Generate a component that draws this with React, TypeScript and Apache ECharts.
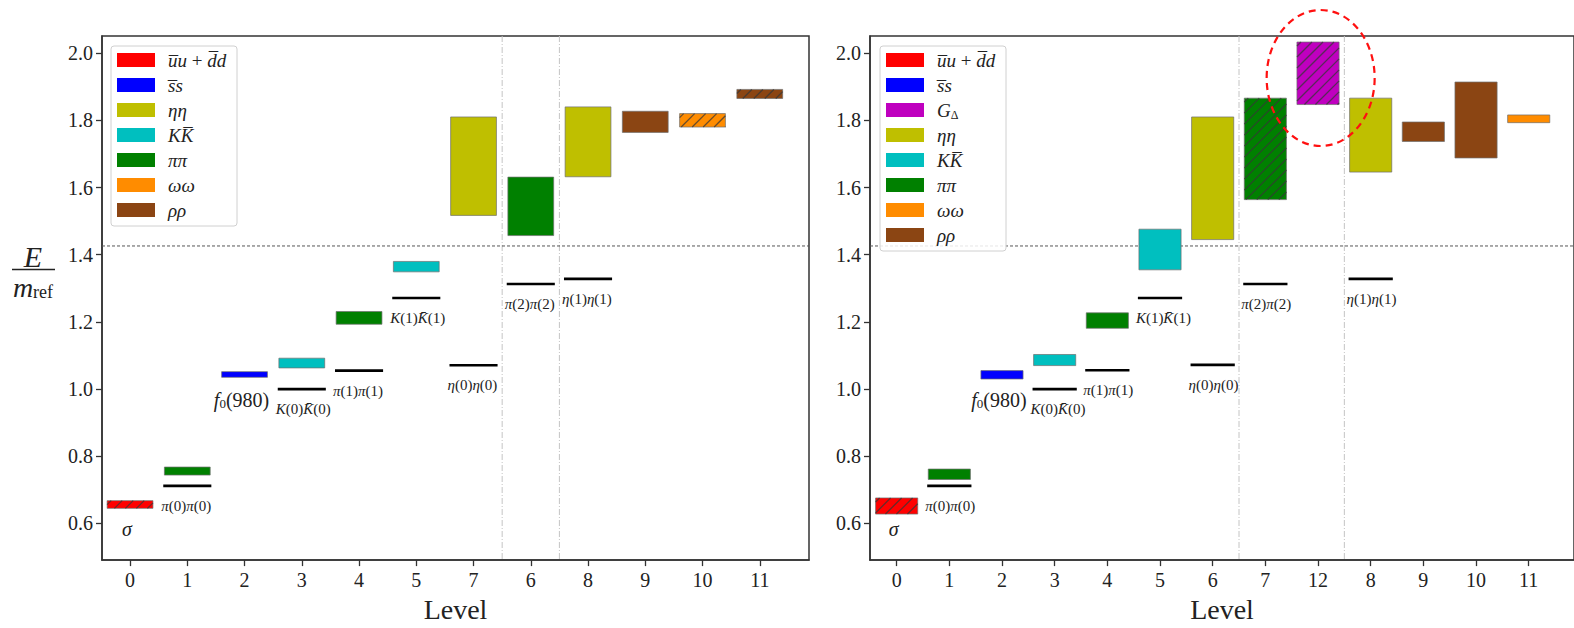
import React, { useEffect, useRef } from "react";
import * as echarts from "echarts";

// ---------- data ----------
const leftLevels = ["0", "1", "2", "3", "4", "5", "7", "6", "8", "9", "10", "11"];
const leftKinds = ["uudd", "pipi", "ss", "KK", "pipi", "KK", "etaeta", "pipi", "etaeta", "rhorho", "omegaomega", "rhorho"];
const leftLow = [0.645, 0.744, 1.035, 1.063, 1.193, 1.349, 1.517, 1.457, 1.632, 1.764, 1.78, 1.865];
const leftHigh = [0.668, 0.768, 1.052, 1.092, 1.231, 1.38, 1.81, 1.631, 1.84, 1.827, 1.82, 1.892];
const leftHatched = [true, false, false, false, false, false, false, false, false, false, true, true];
const leftPairPos = [1, 3, 4, 5, 6, 7, 8];
const leftPairE = [0.712, 1.0, 1.055, 1.271, 1.071, 1.313, 1.328];
const leftPairLabels = ["π(0)π(0)", "K(0)K̄(0)", "π(1)π(1)", "K(1)K̄(1)", "η(0)η(0)", "π(2)π(2)", "η(1)η(1)"];
const leftDividers = [6.5, 7.5];

const rightLevels = ["0", "1", "2", "3", "4", "5", "6", "7", "12", "8", "9", "10", "11"];
const rightKinds = ["uudd", "pipi", "ss", "KK", "pipi", "KK", "etaeta", "pipi", "G", "etaeta", "rhorho", "rhorho", "omegaomega"];
const rightLow = [0.628, 0.731, 1.03, 1.07, 1.181, 1.355, 1.445, 1.564, 1.847, 1.646, 1.737, 1.688, 1.793];
const rightHigh = [0.676, 0.762, 1.055, 1.103, 1.227, 1.476, 1.81, 1.866, 2.033, 1.866, 1.795, 1.914, 1.816];
const rightHatched = [true, false, false, false, false, false, false, true, true, false, false, false, false];
const rightPairPos = [1, 3, 4, 5, 6, 7, 9];
const rightPairE = [0.712, 1.0, 1.056, 1.271, 1.072, 1.313, 1.328];
const rightPairLabels = ["π(0)π(0)", "K(0)K̄(0)", "π(1)π(1)", "K(1)K̄(1)", "η(0)η(0)", "π(2)π(2)", "η(1)η(1)"];
const rightDividers = [6.5, 8.5];

const thresholdE = 1.426;
const yTicks = [0.6, 0.8, 1.0, 1.2, 1.4, 1.6, 1.8, 2.0];
const stateNames = ["σ", "f0(980)"];
const statePos = [0, 2];
const stateE = [0.585, 0.968];
const highlightCenter = [8.05, 1.926];

const legendLeft = ["uudd", "ss", "etaeta", "KK", "pipi", "omegaomega", "rhorho"];
const legendRight = ["uudd", "ss", "G", "etaeta", "KK", "pipi", "omegaomega", "rhorho"];

const kindColors: Record<string, string> = {
  uudd: "#ff0000",
  ss: "#0000ff",
  G: "#bf00bf",
  etaeta: "#bfbf00",
  KK: "#00bfbf",
  pipi: "#008000",
  omegaomega: "#ff8c00",
  rhorho: "#8b4513",
};
const kindLabels: Record<string, string> = {
  uudd: "{i|u\u0305u} + {i|d\u0305d}",
  ss: "{i|s\u0305s}",
  G: "{i|G}{sub|Δ}",
  etaeta: "{i|ηη}",
  KK: "{i|KK\u0305}",
  pipi: "{i|ππ}",
  omegaomega: "{i|ωω}",
  rhorho: "{i|ρρ}",
};

const SERIF = '"Liberation Serif", "DejaVu Serif", serif';
const INK = "#222";

function toRich(s: string) {
  return s.replace(/([πηK]\u0304?)/g, "{i|$1}");
}

function hatch(x0: number, y0: number, x1: number, y1: number) {
  const out: any[] = [];
  const step = 11;
  for (let c = x0 + y0 + 4; c < x1 + y1; c += step) {
    const xa = Math.max(x0, c - y1);
    const xb = Math.min(x1, c - y0);
    if (xb > xa) {
      out.push({
        type: "line",
        shape: { x1: xa, y1: c - xa, x2: xb, y2: c - xb },
        style: { stroke: "rgba(55,55,55,0.75)", lineWidth: 1.3 },
      });
    }
  }
  return out;
}

function barsRenderer(kinds: string[], hatched: boolean[]) {
  return (params: any, api: any) => {
    const i = api.value(0);
    const lo = api.value(1);
    const hi = api.value(2);
    const a = api.coord([i - 0.4, hi]);
    const b = api.coord([i + 0.4, lo]);
    const children: any[] = [
      {
        type: "rect",
        shape: { x: a[0], y: a[1], width: b[0] - a[0], height: b[1] - a[1] },
        style: { fill: kindColors[kinds[params.dataIndex]], stroke: "rgba(110,110,110,0.7)", lineWidth: 1 },
      },
    ];
    if (hatched[params.dataIndex]) children.push(...hatch(a[0], a[1], b[0], b[1]));
    return { type: "group", children };
  };
}

function pairRenderer(labels: string[]) {
  return (params: any, api: any) => {
    const p = api.value(0);
    const e = api.value(1);
    const a = api.coord([p - 0.42, e]);
    const b = api.coord([p + 0.42, e]);
    return {
      type: "group",
      children: [
        { type: "line", shape: { x1: a[0], y1: a[1], x2: b[0], y2: b[1] }, style: { stroke: "#000", lineWidth: 2.6 } },
        {
          type: "text",
          x: a[0] - 2,
          y: a[1] + 20,
          style: {
            text: toRich(labels[params.dataIndex]),
            fontFamily: SERIF,
            fontSize: 15,
            fill: INK,
            align: "left",
            verticalAlign: "middle",
            rich: { i: { fontStyle: "italic", fontFamily: SERIF, fontSize: 15, fill: INK } },
          },
        },
      ],
    };
  };
}

function stateRenderer(params: any, api: any) {
  const pt = api.coord([api.value(0), api.value(1)]);
  const name = stateNames[params.dataIndex];
  const text = name === "σ" ? "{i|σ}" : "{i|f}{sub|0}(980)";
  return {
    type: "text",
    x: pt[0] - 3,
    y: pt[1],
    style: {
      text,
      fontFamily: SERIF,
      fontSize: 20,
      fill: INK,
      align: "center",
      verticalAlign: "middle",
      rich: {
        i: { fontStyle: "italic", fontFamily: SERIF, fontSize: 20, fill: INK },
        sub: { fontFamily: SERIF, fontSize: 13, fill: INK, padding: [8, 0, 0, 0] },
      },
    },
  };
}

function vLineRenderer(params: any, api: any) {
  const x = api.coord([api.value(0), 1])[0];
  const cs = params.coordSys;
  return {
    type: "line",
    shape: { x1: x, y1: cs.y, x2: x, y2: cs.y + cs.height },
    style: { stroke: "#c4c4c4", lineWidth: 1, lineDash: [6, 2, 1, 2] },
  };
}

function hLineRenderer(params: any, api: any) {
  const y = api.coord([0, api.value(1)])[1];
  const cs = params.coordSys;
  return {
    type: "line",
    shape: { x1: cs.x, y1: y, x2: cs.x + cs.width, y2: y },
    style: { stroke: "#555", lineWidth: 1, lineDash: [3, 2] },
  };
}

function ellipseRenderer(params: any, api: any) {
  const c = api.coord([api.value(0), api.value(1)]);
  return {
    type: "ellipse",
    shape: { cx: c[0], cy: c[1], rx: 54, ry: 68 },
    style: { fill: "none", stroke: "#ff1010", lineWidth: 2.2, lineDash: [7, 5] },
    z2: 50,
  };
}

function legendGraphic(kinds: string[], left: number, top: number) {
  const rowH = 25;
  const h = kinds.length * rowH + 5;
  const els: any[] = [
    {
      type: "rect",
      shape: { x: left, y: top, width: 126, height: h, r: 3 },
      style: { fill: "rgba(255,255,255,0.85)", stroke: "#d0d0d0", lineWidth: 1 },
      z: 100,
    },
  ];
  kinds.forEach((k, i) => {
    const cy = top + 14 + i * rowH;
    els.push({
      type: "rect",
      shape: { x: left + 6, y: cy - 7, width: 38, height: 14 },
      style: { fill: kindColors[k] },
      z: 101,
    });
    els.push({
      type: "text",
      x: left + 57,
      y: cy,
      style: {
        text: kindLabels[k],
        fontFamily: SERIF,
        fontSize: 19,
        fill: INK,
        verticalAlign: "middle",
        rich: {
          i: { fontStyle: "italic", fontFamily: SERIF, fontSize: 19, fill: INK },
          sub: { fontFamily: SERIF, fontSize: 12, fill: INK, padding: [9, 0, 0, 0] },
        },
      },
      z: 101,
    });
  });
  return els;
}

function xAxisFor(levels: string[], grid: number, min: number, max: number) {
  const idx = levels.map((_, i) => i);
  return {
    type: "value",
    gridIndex: grid,
    min,
    max,
    name: "Level",
    nameLocation: "middle",
    nameGap: 32,
    nameTextStyle: { fontFamily: SERIF, fontSize: 28, color: INK },
    axisLine: { show: true, onZero: false, lineStyle: { color: "#333", width: 1.5 } },
    axisTick: { show: true, length: 6, customValues: idx, lineStyle: { color: "#333", width: 1.3 } },
    axisLabel: {
      customValues: idx,
      formatter: (v: number) => levels[Math.round(v)] ?? "",
      fontFamily: SERIF,
      fontSize: 20,
      color: INK,
      margin: 10,
    },
    splitLine: { show: false },
  };
}

function yAxisFor(grid: number) {
  return {
    type: "value",
    gridIndex: grid,
    min: 0.491,
    max: 2.051,
    axisLine: { show: true, onZero: false, lineStyle: { color: "#333", width: 1.5 } },
    axisTick: { show: true, length: 6, customValues: yTicks, lineStyle: { color: "#333", width: 1.3 } },
    axisLabel: {
      customValues: yTicks,
      formatter: (v: number) => v.toFixed(1),
      fontFamily: SERIF,
      fontSize: 20,
      color: INK,
      margin: 9,
    },
    splitLine: { show: false },
  };
}

export default function App() {
  const ref = useRef<HTMLDivElement>(null);
  useEffect(() => {
    if (!ref.current) return;
    const chart = echarts.init(ref.current, undefined, { renderer: "svg" });
    const leftBars = leftLevels.map((_, i) => [i, leftLow[i], leftHigh[i]]);
    const rightBars = rightLevels.map((_, i) => [i, rightLow[i], rightHigh[i]]);
    const leftPairs = leftPairPos.map((p, i) => [p, leftPairE[i]]);
    const rightPairs = rightPairPos.map((p, i) => [p, rightPairE[i]]);
    const states = statePos.map((p, i) => [p, stateE[i]]);

    const option: any = {
      animation: false,
      backgroundColor: "#fff",
      grid: [
        { left: 102, top: 36, width: 707, height: 529, show: true, borderColor: "#333", borderWidth: 1.5, backgroundColor: "transparent" },
        { left: 870, top: 36, width: 706, height: 529, show: true, borderColor: "#333", borderWidth: 1.5, backgroundColor: "transparent" },
      ],
      xAxis: [xAxisFor(leftLevels, 0, -0.49, 11.86), xAxisFor(rightLevels, 1, -0.506, 12.86)],
      yAxis: [yAxisFor(0), yAxisFor(1)],
      series: [
        { type: "custom", xAxisIndex: 0, yAxisIndex: 0, data: leftDividers.map((d) => [d, 1]), renderItem: vLineRenderer, silent: true, z: 1 },
        { type: "custom", xAxisIndex: 1, yAxisIndex: 1, data: rightDividers.map((d) => [d, 1]), renderItem: vLineRenderer, silent: true, z: 1 },
        { type: "custom", xAxisIndex: 0, yAxisIndex: 0, data: [[0, thresholdE]], renderItem: hLineRenderer, silent: true, z: 1 },
        { type: "custom", xAxisIndex: 1, yAxisIndex: 1, data: [[0, thresholdE]], renderItem: hLineRenderer, silent: true, z: 1 },
        { type: "custom", xAxisIndex: 0, yAxisIndex: 0, data: leftBars, renderItem: barsRenderer(leftKinds, leftHatched), z: 3 },
        { type: "custom", xAxisIndex: 1, yAxisIndex: 1, data: rightBars, renderItem: barsRenderer(rightKinds, rightHatched), z: 3 },
        { type: "custom", xAxisIndex: 0, yAxisIndex: 0, data: leftPairs, renderItem: pairRenderer(leftPairLabels), z: 3 },
        { type: "custom", xAxisIndex: 1, yAxisIndex: 1, data: rightPairs, renderItem: pairRenderer(rightPairLabels), z: 3 },
        { type: "custom", xAxisIndex: 0, yAxisIndex: 0, data: states, renderItem: stateRenderer, z: 3 },
        { type: "custom", xAxisIndex: 1, yAxisIndex: 1, data: states, renderItem: stateRenderer, z: 3 },
        { type: "custom", xAxisIndex: 1, yAxisIndex: 1, data: [highlightCenter], renderItem: ellipseRenderer, clip: false, z: 20 },
      ],
      graphic: [
        ...legendGraphic(legendLeft, 111, 46),
        ...legendGraphic(legendRight, 880, 46),
        {
          type: "text",
          x: 33,
          y: 256,
          style: { text: "E", fontFamily: SERIF, fontStyle: "italic", fontSize: 30, fill: INK, align: "center", verticalAlign: "middle" },
        },
        { type: "line", shape: { x1: 12, y1: 269.5, x2: 55, y2: 269.5 }, style: { stroke: INK, lineWidth: 1.3 } },
        {
          type: "text",
          x: 33,
          y: 287,
          style: {
            text: "{i|m}{s|ref}",
            align: "center",
            verticalAlign: "middle",
            rich: {
              i: { fontFamily: SERIF, fontStyle: "italic", fontSize: 28, fill: INK },
              s: { fontFamily: SERIF, fontSize: 18, fill: INK, padding: [10, 0, 0, 0] },
            },
          },
        },
      ],
    };
    chart.setOption(option);
    return () => chart.dispose();
  }, []);
  return <div ref={ref} style={{ position: "absolute", left: 0, top: 0, width: 1574, height: 628 }} />;
}
